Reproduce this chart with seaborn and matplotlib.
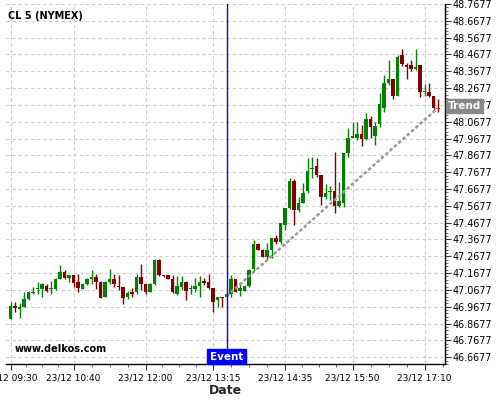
import numpy as np
import pandas as pd
import matplotlib
matplotlib.use("Agg")
import matplotlib.pyplot as plt
import matplotlib.transforms as mtransforms
import seaborn as sns
from matplotlib.ticker import FixedLocator, AutoMinorLocator

# ---------------- data ----------------
start_time = "2023-12-23 09:30"
n_candles = 96  # 5-minute candles, 09:30 .. 17:25

opens = [46.896, 46.972, 46.954, 46.966, 47.014, 47.052, 47.075, 47.075, 47.091, 47.075,
         47.075, 47.134, 47.176, 47.137, 47.156, 47.113, 47.075, 47.103, 47.134, 47.146,
         47.117, 47.027, 47.117, 47.134, 47.091, 47.087, 47.027, 47.053, 47.057, 47.146,
         47.103, 47.057, 47.103, 47.246, 47.156, 47.156, 47.134, 47.043, 47.087, 47.117,
         47.075, 47.075, 47.091, 47.121, 47.117, 47.077, 47.006, 47.027, 47.027, 47.043,
         47.131, 47.063, 47.063, 47.091, 47.190, 47.341, 47.305, 47.265, 47.305, 47.375,
         47.355, 47.454, 47.553, 47.718, 47.543, 47.587, 47.658, 47.786, 47.805, 47.752,
         47.619, 47.648, 47.657, 47.567, 47.587, 47.884, 47.974, 47.970, 47.996, 47.966,
         48.083, 47.984, 48.055, 48.149, 48.298, 48.323, 48.222, 48.466, 48.406, 48.406,
         48.383, 48.406, 48.247, 48.247, 48.222, 48.152]
highs = [46.996, 46.996, 46.990, 47.057, 47.061, 47.085, 47.115, 47.109, 47.103, 47.121,
         47.140, 47.216, 47.186, 47.156, 47.156, 47.162, 47.109, 47.140, 47.186, 47.161,
         47.121, 47.121, 47.192, 47.161, 47.156, 47.087, 47.061, 47.077, 47.161, 47.222,
         47.103, 47.109, 47.252, 47.252, 47.156, 47.156, 47.156, 47.152, 47.152, 47.121,
         47.097, 47.137, 47.152, 47.137, 47.161, 47.077, 47.027, 47.027, 47.049, 47.156,
         47.133, 47.107, 47.097, 47.192, 47.365, 47.349, 47.311, 47.349, 47.375, 47.394,
         47.468, 47.553, 47.732, 47.726, 47.622, 47.702, 47.853, 47.861, 47.851, 47.752,
         47.698, 47.686, 47.890, 47.712, 47.884, 48.030, 48.069, 48.069, 48.049, 48.119,
         48.099, 48.069, 48.238, 48.347, 48.436, 48.323, 48.466, 48.500, 48.420, 48.432,
         48.500, 48.406, 48.293, 48.301, 48.222, 48.202]
lows = [46.895, 46.938, 46.902, 46.966, 47.008, 47.043, 47.043, 47.027, 47.055, 47.043,
        47.067, 47.131, 47.131, 47.113, 47.087, 47.053, 47.073, 47.097, 47.103, 47.073,
        47.017, 47.026, 47.103, 47.087, 47.067, 46.984, 47.012, 47.027, 47.043, 47.067,
        47.043, 47.055, 47.097, 47.152, 47.145, 47.133, 47.047, 47.037, 47.067, 47.008,
        47.043, 47.053, 47.027, 47.097, 47.073, 46.938, 46.968, 46.968, 47.026, 47.027,
        47.053, 47.031, 47.061, 47.085, 47.182, 47.305, 47.264, 47.246, 47.256, 47.339,
        47.341, 47.424, 47.547, 47.454, 47.533, 47.583, 47.643, 47.732, 47.742, 47.573,
        47.607, 47.603, 47.524, 47.563, 47.563, 47.861, 47.970, 47.960, 47.924, 47.960,
        47.970, 47.930, 48.036, 48.128, 48.287, 48.202, 48.218, 48.400, 48.321, 48.372,
        48.377, 48.214, 48.218, 48.214, 48.139, 48.128]
closes = [46.972, 46.958, 46.968, 47.014, 47.055, 47.058, 47.081, 47.103, 47.063, 47.081,
          47.134, 47.176, 47.137, 47.156, 47.107, 47.077, 47.103, 47.134, 47.146, 47.117,
          47.018, 47.117, 47.134, 47.103, 47.083, 47.018, 47.051, 47.043, 47.146, 47.103,
          47.057, 47.103, 47.246, 47.156, 47.150, 47.134, 47.057, 47.091, 47.117, 47.063,
          47.081, 47.091, 47.117, 47.107, 47.077, 46.997, 47.027, 47.018, 47.043, 47.131,
          47.057, 47.077, 47.091, 47.186, 47.341, 47.305, 47.265, 47.305, 47.375, 47.355,
          47.468, 47.553, 47.718, 47.543, 47.587, 47.646, 47.776, 47.795, 47.752, 47.619,
          47.646, 47.654, 47.567, 47.599, 47.884, 47.970, 47.980, 47.996, 47.966, 48.083,
          48.039, 48.043, 48.174, 48.298, 48.323, 48.222, 48.452, 48.412, 48.396, 48.381,
          48.396, 48.247, 48.253, 48.218, 48.149, 48.145]

tick_labels = ["23/12 09:30", "23/12 10:40", "23/12 12:00", "23/12 13:15",
               "23/12 14:35", "23/12 15:50", "23/12 17:10"]
y_ticks = [46.6677, 46.7677, 46.8677, 46.9677, 47.0677, 47.1677, 47.2677, 47.3677,
           47.4677, 47.5677, 47.6677, 47.7677, 47.8677, 47.9677, 48.0677, 48.1677,
           48.2677, 48.3677, 48.4677, 48.5677, 48.6677, 48.7677]

event_time = "23/12 13:30"
trend_times = ["23/12 13:30", "23/12 17:25"]
trend_prices = [47.030, 48.150]

title_text = "CL 5 (NYMEX)"
watermark = "www.delkos.com"

# ---------------- build frame ----------------
times = pd.date_range(start_time, periods=n_candles, freq="5min")
labels = times.strftime("%d/%m %H:%M")
df = pd.DataFrame({"time": labels, "open": opens, "high": highs,
                   "low": lows, "close": closes})
df["idx"] = np.arange(len(df))
df["up"] = df["close"] >= df["open"]
pos_of = dict(zip(df["time"], df["idx"]))

green = "#008000"
red = "#800000"
colors = np.where(df["up"], green, red)

# ---------------- figure ----------------
sns.set_theme(style="white")
plt.rcParams["font.family"] = ["DejaVu Sans"]

fig = plt.figure(figsize=(5, 4), dpi=100)
ax = fig.add_axes([0.012, 0.09, 0.878, 0.90])

# wicks and bodies
ax.vlines(df["idx"], df["low"], df["high"], colors=colors, linewidth=1.0, zorder=3)
body_low = np.minimum(df["open"], df["close"])
body_h = np.maximum(np.abs(df["close"] - df["open"]), 0.004)
ax.bar(df["idx"], body_h, bottom=body_low, width=0.85, color=colors,
       linewidth=0, zorder=4)

# trend line (seaborn)
trend_df = pd.DataFrame({"x": [pos_of[t] for t in trend_times], "y": trend_prices})
sns.lineplot(data=trend_df, x="x", y="y", ax=ax, color="#999999", linewidth=1.8,
             linestyle=(0, (1.4, 0.9)), zorder=5)

# event line
ev = pos_of[event_time]
ax.axvline(ev, color="blue", linewidth=1.0, zorder=6)

# axes limits
ax.set_xlim(-1.0, 96.55)
ax.set_ylim(46.627, 48.768)

# ticks
major_x = [pos_of[t] for t in tick_labels]
ax.xaxis.set_major_locator(FixedLocator(major_x))
ax.set_xticklabels(tick_labels)
minor_x = []
for a, b in zip(major_x[:-1], major_x[1:]):
    minor_x += [a + (b - a) * k / 4 for k in (1, 2, 3)]
step = major_x[-1] - major_x[-2]
minor_x += [major_x[0] - step * k / 4 for k in (1, 2, 3)]
minor_x += [major_x[-1] + step * k / 4 for k in (1, 2, 3)]
ax.xaxis.set_minor_locator(FixedLocator(minor_x))

ax.yaxis.tick_right()
ax.yaxis.set_major_locator(FixedLocator(y_ticks))
ax.set_yticklabels([f"{v:.4f}" for v in y_ticks])
ax.yaxis.set_minor_locator(AutoMinorLocator(5))

ax.tick_params(axis="both", which="major", direction="out", length=4, width=0.8,
               color="#333333", labelcolor="black")
ax.tick_params(axis="x", which="major", labelsize=6.5, pad=3, bottom=True)
ax.tick_params(axis="y", which="major", labelsize=6.9, pad=1.5, right=True, left=False)
ax.tick_params(axis="both", which="minor", direction="out", length=2, width=0.6,
               color="#555555")
ax.tick_params(axis="x", which="minor", bottom=True)
ax.tick_params(axis="y", which="minor", right=True, left=False)

# grid
ax.grid(True, which="major", color="#cccccc", linestyle=(0, (3, 2.5)), linewidth=0.8)
ax.set_axisbelow(True)

# spines
for s in ["top", "left"]:
    ax.spines[s].set_visible(False)
for s in ["bottom", "right"]:
    ax.spines[s].set_visible(True)
    ax.spines[s].set_color("black")
    ax.spines[s].set_linewidth(1.0)

ax.set_xlabel("Date", fontsize=9, fontweight="bold", labelpad=1)
ax.set_ylabel("")

# texts
ax.text(0.005, 0.98, title_text, transform=ax.transAxes, fontsize=7,
        fontweight="bold", ha="left", va="top", color="black")
ax.text(0.02, 0.028, watermark, transform=ax.transAxes, fontsize=7,
        fontweight="bold", ha="left", va="bottom", color="black")

trans_ev = mtransforms.blended_transform_factory(ax.transData, ax.transAxes)
ax.text(ev, 0.006, "Event", transform=trans_ev, fontsize=7.5, fontweight="bold",
        color="white", ha="center", va="bottom", zorder=7,
        bbox=dict(boxstyle="square,pad=0.25", facecolor="blue", edgecolor="blue"))

trans_tr = mtransforms.blended_transform_factory(ax.transAxes, ax.transData)
ax.text(1.006, trend_prices[-1] + 0.01, "Trend", transform=trans_tr, fontsize=7.5,
        fontweight="bold", color="white", ha="left", va="center", clip_on=False,
        zorder=7,
        bbox=dict(boxstyle="square,pad=0.2", facecolor="#888888", edgecolor="#888888"))

fig.savefig("out.png", dpi=100)
